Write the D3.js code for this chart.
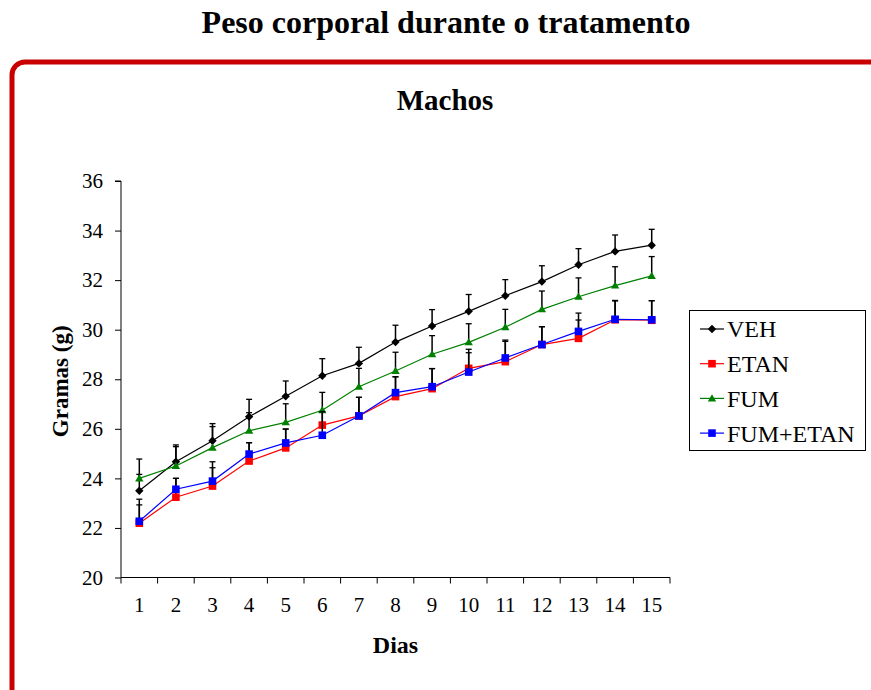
<!DOCTYPE html>
<html>
<head>
<meta charset="utf-8">
<script src="https://cdn.jsdelivr.net/npm/d3@7"></script>
<style>
  html, body { margin: 0; padding: 0; background: #fff; }
  svg { display: block; }
  svg text { font-family: "Liberation Serif", "Times New Roman", Times, serif; fill: #000; }
</style>
</head>
<body>
<svg id="chart" width="871" height="690"></svg>
<script>
// ---- data ----
const days = [1,2,3,4,5,6,7,8,9,10,11,12,13,14,15];
const yTicks = [20,22,24,26,28,30,32,34,36];
const seriesNames = ["VEH","ETAN","FUM","FUM+ETAN"];
const seriesColors = ["#000000","#ff0000","#008000","#0000ff"];
const seriesMarkers = ["diamond","square","triangle","square"];

const vehValues  = [23.50,24.67,25.52,26.49,27.31,28.14,28.64,29.50,30.15,30.74,31.37,31.94,32.62,33.16,33.41];
const etanValues = [22.19,23.24,23.69,24.70,25.23,26.15,26.52,27.30,27.62,28.44,28.71,29.40,29.65,30.40,30.38];
const fumValues  = [24.00,24.50,25.24,25.92,26.26,26.75,27.70,28.33,29.01,29.49,30.10,30.82,31.33,31.78,32.17];
const fumEtanValues = [22.27,23.56,23.89,24.98,25.43,25.74,26.52,27.46,27.70,28.29,28.86,29.40,29.93,30.42,30.40];

const vehErr  = [0.66,0.68,0.69,0.70,0.62,0.69,0.65,0.68,0.66,0.68,0.65,0.64,0.65,0.66,0.64];
const etanErr = [0.74,0.76,0.74,0.74,0.76,0.55,0.75,0.80,0.81,0.77,0.82,0.72,0.74,0.76,0.79];
const fumErr  = [0.78,0.78,0.85,0.73,0.75,0.72,0.74,0.76,0.75,0.75,0.72,0.74,0.76,0.76,0.78];
const fumEtanErr = [0.89,0.44,0.78,0.46,0.56,0.95,0.75,0.64,0.73,0.78,0.72,0.72,0.74,0.76,0.77];

const seriesValues = [vehValues, etanValues, fumValues, fumEtanValues];
const seriesErrors = [vehErr, etanErr, fumErr, fumEtanErr];

// ---- layout ----
const FONT = "'Liberation Serif', 'Times New Roman', Times, serif";
const svg = d3.select("#chart");
const plot = {left: 121, right: 670, top: 181, bottom: 577.5};

// outer red rounded frame
svg.append("rect")
  .attr("x", 12).attr("y", 62)
  .attr("width", 920).attr("height", 700)
  .attr("rx", 13).attr("ry", 13)
  .attr("fill", "none").attr("stroke", "#c80000").attr("stroke-width", 5);

svg.append("text")
  .attr("x", 446).attr("y", 33)
  .attr("text-anchor", "middle")
  .attr("font-family", FONT)
  .attr("font-size", 32).attr("font-weight", "bold")
  .text("Peso corporal durante o tratamento");

svg.append("text")
  .attr("x", 445).attr("y", 110)
  .attr("text-anchor", "middle")
  .attr("font-family", FONT)
  .attr("font-size", 29).attr("font-weight", "bold")
  .text("Machos");

const x = d3.scaleBand().domain(days).range([plot.left, plot.right]).padding(0);
const y = d3.scaleLinear().domain([20, 36]).range([plot.bottom, plot.top]);
const cx = d => x(d) + x.bandwidth() / 2;

// y axis
const yAxis = svg.append("g")
  .attr("transform", `translate(${plot.left},0)`)
  .call(d3.axisLeft(y).tickValues(yTicks).tickSize(6).tickPadding(12).tickFormat(d3.format("d")));
yAxis.attr("font-family", FONT);
yAxis.selectAll("text").attr("font-size", 21).attr("font-family", FONT).attr("fill", "#000");
yAxis.selectAll("line, path").attr("stroke", "#000");
yAxis.select(".domain").attr("d", `M-6,${plot.top}H0V${plot.bottom}`);

// x axis
const xAxis = svg.append("g")
  .attr("transform", `translate(0,${plot.bottom})`)
  .call(d3.axisBottom(x).tickSize(0).tickPadding(20));
xAxis.attr("font-family", FONT);
xAxis.selectAll("text").attr("font-size", 21).attr("font-family", FONT).attr("fill", "#000");
xAxis.select(".domain").attr("stroke", "#000").attr("d", `M${plot.left},0H${plot.right}`);
const boundaries = days.map(d => x(d)).concat([x(days[days.length - 1]) + x.bandwidth()]);
xAxis.selectAll(".xb").data(boundaries).enter().append("line")
  .attr("class", "xb")
  .attr("x1", d => d).attr("x2", d => d)
  .attr("y1", 0).attr("y2", 6)
  .attr("stroke", "#000");

// axis titles
svg.append("text")
  .attr("transform", `translate(60,${(plot.top + plot.bottom) / 2 + 2}) rotate(-90)`)
  .attr("text-anchor", "middle")
  .attr("dy", "0.35em")
  .attr("font-family", FONT)
  .attr("font-size", 23).attr("font-weight", "bold")
  .text("Gramas (g)");

svg.append("text")
  .attr("x", (plot.left + plot.right) / 2).attr("y", 653)
  .attr("text-anchor", "middle")
  .attr("font-family", FONT)
  .attr("font-size", 24).attr("font-weight", "bold")
  .text("Dias");

// markers
function markerPath(type) {
  if (type === "diamond") return "M0,-4.2L4.2,0L0,4.2L-4.2,0Z";
  if (type === "square") return "M-3.8,-3.8H3.8V3.8H-3.8Z";
  if (type === "triangle") return "M0,-4.2L4.2,3L-4.2,3Z";
  return "";
}

const line = d3.line().x((v, i) => cx(days[i])).y(v => y(v));

seriesNames.forEach((name, si) => {
  const vals = seriesValues[si];
  const errs = seriesErrors[si];
  const g = svg.append("g");
  g.append("path")
    .attr("d", line(vals))
    .attr("fill", "none")
    .attr("stroke", seriesColors[si])
    .attr("stroke-width", 1.2);
  const eb = g.selectAll(".eb").data(vals).enter().append("g");
  eb.append("line")
    .attr("x1", (v, i) => cx(days[i])).attr("x2", (v, i) => cx(days[i]))
    .attr("y1", v => y(v)).attr("y2", (v, i) => y(v + errs[i]))
    .attr("stroke", "#000").attr("stroke-width", 1.5);
  eb.append("line")
    .attr("x1", (v, i) => cx(days[i]) - 3).attr("x2", (v, i) => cx(days[i]) + 3)
    .attr("y1", (v, i) => y(v + errs[i])).attr("y2", (v, i) => y(v + errs[i]))
    .attr("stroke", "#000").attr("stroke-width", 1.3);
  g.selectAll(".mk").data(vals).enter().append("path")
    .attr("transform", (v, i) => `translate(${cx(days[i])},${y(v)})`)
    .attr("d", markerPath(seriesMarkers[si]))
    .attr("fill", seriesColors[si]);
});

// legend
const legend = svg.append("g");
legend.append("rect")
  .attr("x", 689.5).attr("y", 310.5)
  .attr("width", 176).attr("height", 140)
  .attr("fill", "#fff").attr("stroke", "#000").attr("stroke-width", 1);
seriesNames.forEach((name, si) => {
  const ly = 329 + si * 34.7;
  legend.append("line")
    .attr("x1", 700).attr("x2", 724).attr("y1", ly).attr("y2", ly)
    .attr("stroke", seriesColors[si]).attr("stroke-width", 1.2);
  legend.append("path")
    .attr("transform", `translate(712,${ly})`)
    .attr("d", markerPath(seriesMarkers[si]))
    .attr("fill", seriesColors[si]);
  legend.append("text")
    .attr("x", 727).attr("y", ly).attr("dy", "0.35em")
    .attr("font-family", FONT)
    .attr("font-size", 24)
    .text(name);
});
</script>
</body>
</html>
